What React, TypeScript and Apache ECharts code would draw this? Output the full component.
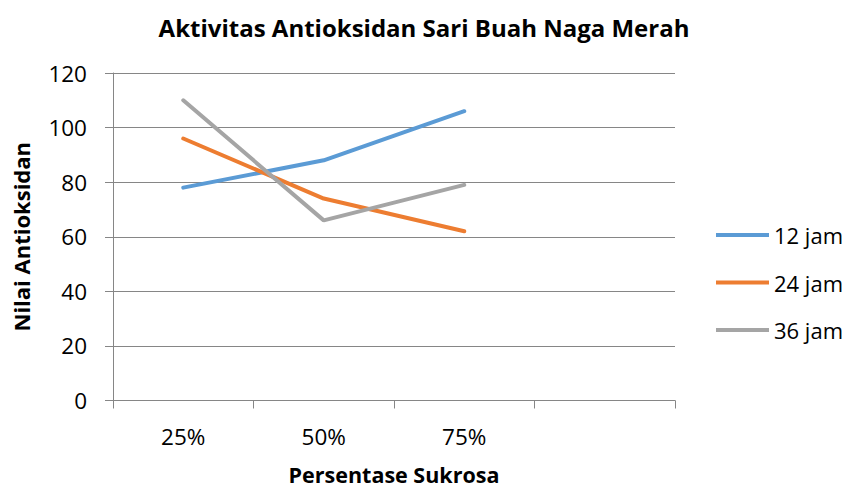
import React, { useEffect, useRef } from "react";
import * as echarts from "echarts";

const categories = ["25%", "50%", "75%", ""];
const seriesNames = ["12 jam", "24 jam", "36 jam"];
const values12 = [78, 88, 106];
const values24 = [96, 74, 62];
const values36 = [110, 66, 79];
const colors = ["#5B9BD5", "#ED7D31", "#A5A5A5"];

const FONT = "'Open Sans', 'Noto Sans', sans-serif";

export default function App() {
  const ref = useRef<HTMLDivElement>(null);
  useEffect(() => {
    if (!ref.current) return;
    const chart = echarts.init(ref.current, null, { renderer: "svg" });
    const data = [values12, values24, values36];
    chart.setOption({
      animation: false,
      textStyle: { fontFamily: FONT },
      title: {
        text: "Aktivitas Antioksidan Sari Buah Naga Merah",
        left: "center",
        top: 10,
        textStyle: { fontFamily: FONT, fontSize: 24, fontWeight: "bold", color: "#000" },
      },
      legend: {
        orient: "vertical",
        left: 716,
        top: 222,
        padding: 0,
        itemWidth: 53,
        itemHeight: 4,
        itemGap: 21.5,
        icon: "rect",
        data: seriesNames,
        textStyle: { fontFamily: FONT, fontSize: 22, color: "#000", lineHeight: 26, padding: [0, 0, 0, 0] },
      },
      grid: { left: 113, right: 173, top: 73, bottom: 87.5, containLabel: false, outerBoundsMode: "none" },
      xAxis: {
        type: "category",
        data: categories,
        boundaryGap: true,
        name: "Persentase Sukrosa",
        nameLocation: "middle",
        nameGap: 64,
        nameTextStyle: { fontFamily: FONT, fontSize: 21.5, lineHeight: 20, fontWeight: "bold", color: "#000" },
        axisLine: { lineStyle: { color: "#868686", width: 1 } },
        axisTick: { show: true, length: 8, lineStyle: { color: "#868686" } },
        axisLabel: { fontFamily: FONT, fontSize: 22.5, color: "#000", margin: 24 },
        splitLine: { show: false },
      },
      yAxis: {
        type: "value",
        min: 0,
        max: 120,
        interval: 20,
        name: "Nilai Antioksidan",
        nameLocation: "middle",
        nameGap: 81,
        nameRotate: 90,
        nameTextStyle: { fontFamily: FONT, fontSize: 22, fontWeight: "bold", color: "#000" },
        axisLine: { show: true, lineStyle: { color: "#868686", width: 1 } },
        axisTick: { show: true, length: 8, lineStyle: { color: "#868686" } },
        axisLabel: { fontFamily: FONT, fontSize: 22.5, color: "#000", margin: 26 },
        splitLine: { show: true, lineStyle: { color: "#868686", width: 1 } },
      },
      series: seriesNames.map((name, i) => ({
        name,
        type: "line",
        data: data[i],
        symbol: "none",
        color: colors[i],
        lineStyle: { width: 4, color: colors[i], cap: "round" },
      })),
    });
    return () => chart.dispose();
  }, []);
  return (
    <div
      ref={ref}
      style={{ position: "fixed", left: 0, top: 0, width: 848, height: 488, background: "#fff" }}
    />
  );
}
